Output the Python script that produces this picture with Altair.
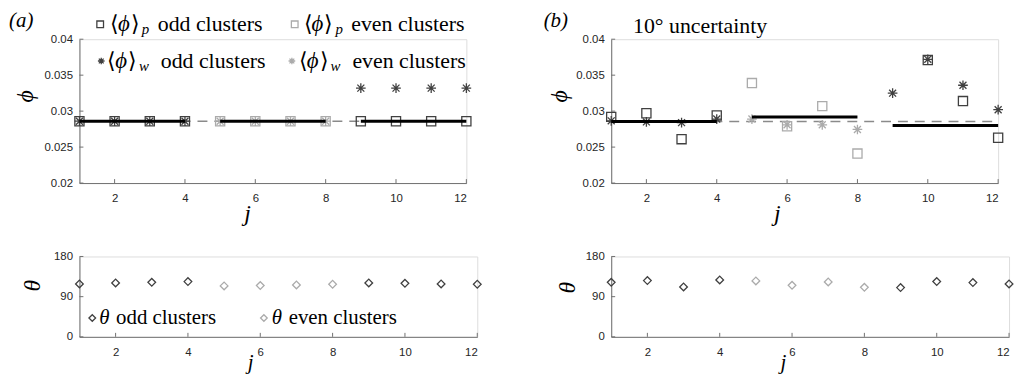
import altair as alt
import pandas as pd

# ---------------- data ----------------
J = [1, 2, 3, 4, 5, 6, 7, 8, 9, 10, 11, 12]
CLUSTER = ["odd", "odd", "odd", "odd", "even", "even", "even", "even", "odd", "odd", "odd", "odd"]

A_PHI_P = [0.0286, 0.0286, 0.0286, 0.0286, 0.0286, 0.0286, 0.0286, 0.0286, 0.0286, 0.0286, 0.0286, 0.0286]
A_PHI_W = [0.0286, 0.0286, 0.0286, 0.0286, 0.0286, 0.0286, 0.0286, 0.0286, 0.0332, 0.0332, 0.0332, 0.0332]
A_THETA = [118.5, 120.7, 122.2, 123.7, 114.1, 114.9, 116.3, 117.8, 120.7, 120.0, 118.5, 117.8]

B_PHI_P = [0.0292, 0.0297, 0.0261, 0.0294, 0.0339, 0.0279, 0.0307, 0.0241, None, 0.0371, 0.0314, 0.0263]
B_PHI_W = [0.02865, 0.0285, 0.0284, 0.0289, 0.0289, 0.0281, 0.0281, 0.02745, 0.0325, 0.0372, 0.0336, 0.0302]
B_THETA = [122.2, 126.0, 111.8, 127.5, 125.3, 115.5, 123.0, 111.0, 110.3, 123.8, 121.5, 118.5]

SEG_START = [1, 5, 9]
SEG_END = [4, 8, 12]
A_SEG = [0.0286, 0.0286, 0.0286]
B_SEG = [0.02855, 0.0292, 0.0280]
A_MEAN = 0.0286
B_MEAN = 0.02855

J_TICKS = [2, 4, 6, 8, 10, 12]
PHI_TICKS = [0.02, 0.025, 0.03, 0.035, 0.04]
THETA_TICKS = [0, 90, 180]

# ---------------- style ----------------
DARK = "#404040"
LIGHT = "#ababab"
AX = "#707070"
LBL = "#262626"
SERIF = "Liberation Serif"
SANS = "Liberation Sans"
ASTER = "M-1,0L1,0M0,-1L0,1M-0.72,-0.72L0.72,0.72M-0.72,0.72L0.72,-0.72"
cscale = alt.Scale(domain=["odd", "even"], range=[DARK, LIGHT])

W_TOP, H_TOP = 390, 145
W_BOT, H_BOT = 401, 81
LEG_SIZE = 22


def xenc(title_x, lab_pad, title_pad, title_size):
    return alt.X("j:Q", scale=alt.Scale(domain=[1, 12], nice=False, zero=False),
                 axis=alt.Axis(values=J_TICKS, grid=False, ticks=False, domainColor=AX,
                               labelFont=SANS, labelFontSize=11.5, labelColor=LBL, labelPadding=lab_pad,
                               title="j", titleFont=SERIF, titleFontSize=title_size, titleFontStyle="italic",
                               titleFontWeight="normal", titleColor="black", titleX=title_x,
                               titlePadding=title_pad))


def yenc(domain, ticks, fmt, title, tx, ty):
    return alt.Y("v:Q", scale=alt.Scale(domain=domain, nice=False, zero=False),
                 axis=alt.Axis(values=ticks, format=fmt, grid=False, ticks=False, domainColor=AX,
                               labelFont=SANS, labelFontSize=11.5, labelColor=LBL, labelPadding=7,
                               title=title, titleFont=SERIF, titleFontSize=24, titleFontStyle="italic",
                               titleFontWeight="normal", titleColor="black", titleX=tx, titleY=ty,
                               titleAlign="center", titleBaseline="middle", titleAngle=270))


def pts(vals):
    return pd.DataFrame({"j": J, "v": vals, "c": CLUSTER}).dropna()


def txt(X, Y, jv, vv, s, dx=0, dy=0, size=21, italic=False, baseline="alphabetic"):
    return alt.Chart(pd.DataFrame({"j": [jv], "v": [vv], "t": [s]})).mark_text(
        font=SERIF, fontSize=size, fontStyle="italic" if italic else "normal",
        align="left", baseline=baseline, dx=dx, dy=dy, color="black"
    ).encode(x=X, y=Y, text="t:N")


def marker(X, Y, jv, vv, shape, color, size):
    return alt.Chart(pd.DataFrame({"j": [jv], "v": [vv]})).mark_point(
        shape=shape, filled=False, size=size, strokeWidth=1.3, color=color, opacity=1
    ).encode(x=X, y=Y)


def ticks_layers(X, Y, yticks, H):
    xt = alt.Chart(pd.DataFrame({"j": J_TICKS})).mark_rule(color=AX).encode(
        x=X, y=alt.value(H), y2=alt.value(H - 4))
    yt = alt.Chart(pd.DataFrame({"v": yticks})).mark_rule(color=AX).encode(
        y=Y, x=alt.value(0), x2=alt.value(4))
    return [xt, yt]


def top_panel(phi_p, phi_w, seg, mean, title_x, ytx, yty, extra):
    X = xenc(title_x, 10, -3, 24)
    Y = yenc([0.02, 0.04], PHI_TICKS, ".3~f", "ϕ", ytx, yty)
    dash = alt.Chart(pd.DataFrame({"j": [1], "j2": [12], "v": [mean]})).mark_rule(
        color="#8a8a8a", strokeDash=[10, 7], strokeWidth=1.4).encode(x=X, x2="j2:Q", y=Y)
    sq = alt.Chart(pts(phi_p)).mark_point(shape="square", filled=False, size=85, strokeWidth=1.3, opacity=1).encode(
        x=X, y=Y, color=alt.Color("c:N", scale=cscale, legend=None))
    ast = alt.Chart(pts(phi_w)).mark_point(shape=ASTER, filled=False, size=95, strokeWidth=1.3, opacity=1).encode(
        x=X, y=Y, color=alt.Color("c:N", scale=cscale, legend=None))
    segs = alt.Chart(pd.DataFrame({"j": SEG_START, "j2": SEG_END, "v": seg})).mark_rule(
        color="black", strokeWidth=3).encode(x=X, x2="j2:Q", y=Y)
    layers = [dash, sq, ast, segs] + ticks_layers(X, Y, PHI_TICKS, H_TOP) + extra(X, Y)
    return alt.layer(*layers).properties(width=W_TOP, height=H_TOP)


def bot_panel(theta, title_x, ytx, yty, extra):
    X = xenc(title_x, 10, -7, 21)
    Y = yenc([0, 180], THETA_TICKS, "d", "θ", ytx, yty)
    dia = alt.Chart(pts(theta)).mark_point(shape="diamond", filled=False, size=60, strokeWidth=1.3, opacity=1).encode(
        x=X, y=Y, color=alt.Color("c:N", scale=cscale, legend=None))
    layers = [dia] + ticks_layers(X, Y, THETA_TICKS, H_BOT) + extra(X, Y)
    return alt.layer(*layers).properties(width=W_BOT, height=H_BOT)


def phi_label(X, Y, jm, vm, d1, sub, d2):
    return [txt(X, Y, jm, vm, "⟨", dx=d1, dy=7, size=LEG_SIZE),
            txt(X, Y, jm, vm, "ϕ", dx=d1 + 8, dy=7, size=23, italic=True),
            txt(X, Y, jm, vm, "⟩", dx=d1 + 21, dy=7, size=LEG_SIZE),
            txt(X, Y, jm, vm, sub, dx=d2, dy=10, size=15, italic=True)]


def extra_a(X, Y):
    out = [txt(X, Y, -1.0, 0.04248, "(a)", italic=True, baseline="middle")]
    for jm, vm, shape, col, sub, d1, d2, d3, label in [
        (1.59, 0.04207, "square", DARK, "p", 10, 42, 58, "odd clusters"),
        (7.12, 0.04207, "square", LIGHT, "p", 9, 41, 57, "even clusters"),
        (1.62, 0.03697, ASTER, DARK, "w", 6, 38, 60, "odd clusters"),
        (7.04, 0.03697, ASTER, LIGHT, "w", 7, 39, 61, "even clusters"),
    ]:
        out.append(marker(X, Y, jm, vm, shape, col, 45))
        out += phi_label(X, Y, jm, vm, d1, sub, d2)
        out.append(txt(X, Y, jm, vm, label, dx=d3, dy=7, size=LEG_SIZE))
    return out


def extra_b(X, Y):
    return [txt(X, Y, -0.92, 0.0425, "(b)", italic=True, baseline="middle"),
            txt(X, Y, 1.62, 0.04179, "10° uncertainty", baseline="middle", size=LEG_SIZE)]


def extra_ba(X, Y):
    out = []
    for jm, col, d1, d2, label in [(1.355, DARK, 7, 24, "odd clusters"),
                                   (6.10, LIGHT, 8, 25, "even clusters")]:
        out.append(marker(X, Y, jm, 42.2, "diamond", col, 45))
        out.append(txt(X, Y, jm, 42.2, "θ", dx=d1, dy=6, italic=True))
        out.append(txt(X, Y, jm, 42.2, label, dx=d2, dy=6))
    return out


def none(X, Y):
    return []


topA = top_panel(A_PHI_P, A_PHI_W, A_SEG, A_MEAN, 169, -54, 57, extra_a)
topB = top_panel(B_PHI_P, B_PHI_W, B_SEG, B_MEAN, 167, -52, 57, extra_b)
botA = bot_panel(A_THETA, 172, -47, 29, extra_ba)
botB = bot_panel(B_THETA, 173, -44, 31, none)

chart = alt.concat(topA, topB, botA, botB, columns=2, bounds="flush",
                   spacing={"row": 74, "column": 135}).properties(
    padding={"left": 0, "top": 0, "right": 0, "bottom": 0}
).configure_view(stroke=None).configure(background="white")

chart.save("out.html", embed_options={"renderer": "svg", "actions": False})
